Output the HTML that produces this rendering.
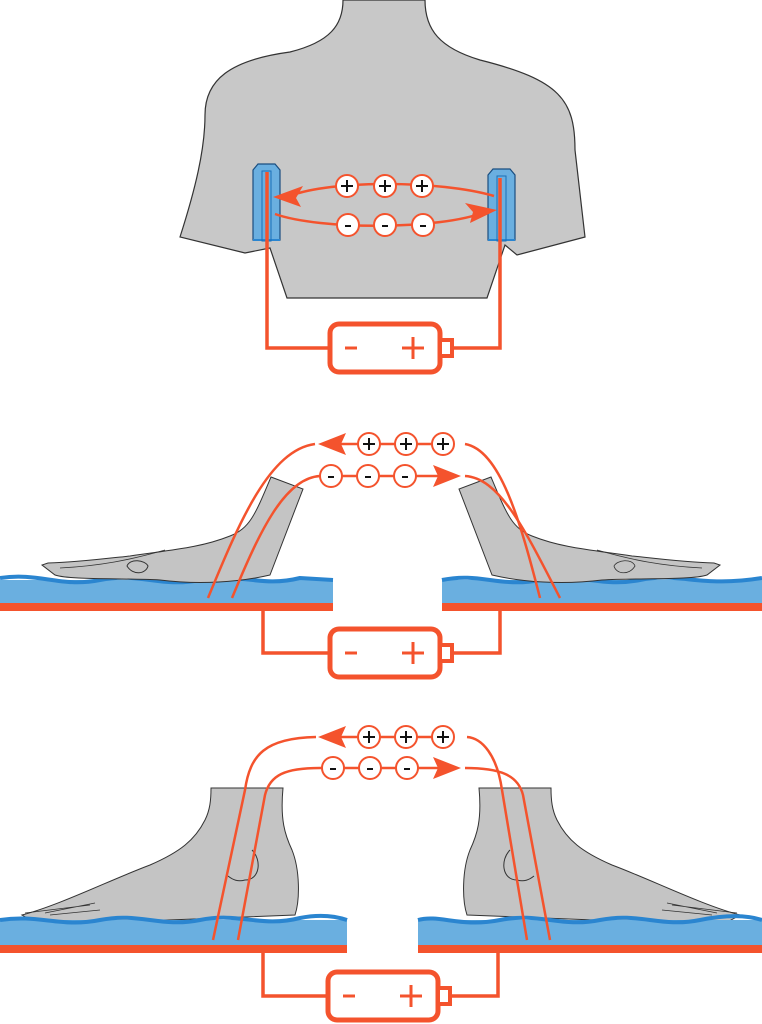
<!DOCTYPE html>
<html><head><meta charset="utf-8"><style>html,body{margin:0;padding:0;background:#fff}svg{display:block}</style></head>
<body>
<svg width="762" height="1024" viewBox="0 0 762 1024" xmlns="http://www.w3.org/2000/svg" font-family="Liberation Sans, sans-serif">
<defs>
<marker id="ah" viewBox="0 0 10 10" refX="9" refY="5" markerWidth="6" markerHeight="6" orient="auto-start-reverse" markerUnits="userSpaceOnUse">
</marker>
<g id="batt">
<rect x="0" y="0" width="110" height="48" rx="9" fill="#fff" stroke="#f4532d" stroke-width="5"/>
<rect x="110" y="16" width="12" height="16" fill="#fff" stroke="#f4532d" stroke-width="4"/>
<line x1="15" y1="24" x2="27" y2="24" stroke="#f4532d" stroke-width="3"/>
<line x1="72" y1="24" x2="94" y2="24" stroke="#f4532d" stroke-width="3"/>
<line x1="83" y1="13" x2="83" y2="35" stroke="#f4532d" stroke-width="3"/>
</g>
<g id="pc"><circle r="11" fill="#fff" stroke="#f4532d" stroke-width="2"/><line x1="-6" y1="0" x2="6" y2="0" stroke="#111" stroke-width="2"/><line x1="0" y1="-6" x2="0" y2="6" stroke="#111" stroke-width="2"/></g>
<g id="mc"><circle r="11" fill="#fff" stroke="#f4532d" stroke-width="2"/><line x1="-3" y1="1" x2="3" y2="1" stroke="#111" stroke-width="2"/></g>
</defs>

<!-- TORSO -->
<path d="M343,0 L425,0 C425,30 440,48 480,60 C560,80 575,100 575,150 L585,237 L517,255 L505,245 L487,298 L287,298 L270,248 L250,252 L245,253 L180,237 C195,190 205,150 205,115 C205,80 230,60 290,52 C330,42 343,25 343,0 Z" fill="#c8c8c8" stroke="#333" stroke-width="1.2"/>
<path d="M253,170 L258,164 L275,164 L280,170 L280,240 L253,240 Z" fill="#6aafe0" stroke="#1a4e80" stroke-width="1.2"/>
<path d="M488,175 L493,169 L510,169 L515,175 L515,240 L488,240 Z" fill="#6aafe0" stroke="#1a4e80" stroke-width="1.2"/>
<line x1="253" y1="240" x2="280" y2="240" stroke="#2a85d0" stroke-width="2"/>
<line x1="488" y1="240" x2="515" y2="240" stroke="#2a85d0" stroke-width="2"/>
<rect x="262" y="171" width="9" height="70" fill="none" stroke="#1a6fb8" stroke-width="1"/>
<rect x="497" y="176" width="9" height="65" fill="none" stroke="#1a6fb8" stroke-width="1"/>
<polyline points="267,172 267,348 330,348" fill="none" stroke="#f4532d" stroke-width="3.5"/>
<polyline points="500,178 500,348 452,348" fill="none" stroke="#f4532d" stroke-width="3.5"/>
<use href="#batt" x="330" y="324"/>
<path d="M494,196 C440,180 330,180 290,196" fill="none" stroke="#f4532d" stroke-width="2.5"/>
<polygon points="273,197 303,186 296,198 301,207" fill="#f4532d"/>
<path d="M275,214 C320,230 440,230 485,212" fill="none" stroke="#f4532d" stroke-width="2.5"/>
<polygon points="497,210 465,203 473,212 470,223" fill="#f4532d"/>
<use href="#pc" x="347" y="186"/><use href="#pc" x="385" y="186"/><use href="#pc" x="422" y="186"/>
<use href="#mc" x="348" y="225"/><use href="#mc" x="385" y="225"/><use href="#mc" x="423" y="225"/>

<!-- MIDDLE -->
<rect x="0" y="580" width="333" height="24" fill="#6aafe0"/>
<rect x="442" y="580" width="320" height="24" fill="#6aafe0"/>
<path d="M0,578 C40,572 60,588 100,580 C140,572 160,588 200,580 C240,572 260,588 300,578 L333,580" fill="none" stroke="#2a85d0" stroke-width="4"/>
<path d="M442,580 C480,572 500,588 540,580 C580,572 600,588 640,580 C680,572 700,588 762,578" fill="none" stroke="#2a85d0" stroke-width="4"/>
<rect x="0" y="603" width="333" height="8" fill="#f4532d"/>
<rect x="442" y="603" width="320" height="8" fill="#f4532d"/>
<!-- left foot -->
<path d="M271,477 L303,489 L270,575 C240,582 200,585 160,580 C120,578 70,580 55,575 L42,565 L48,563 C80,562 110,558 130,556 C170,550 200,548 230,536 C250,528 255,515 271,477 Z" fill="#c4c4c4" stroke="#333" stroke-width="1"/>
<path d="M127,566 C130,558 145,560 148,566 C146,574 133,576 127,566 Z" fill="none" stroke="#333" stroke-width="1"/>
<path d="M60,568 C100,566 130,560 165,550" fill="none" stroke="#333" stroke-width="0.8"/>
<!-- right foot -->
<path d="M491,477 L459,489 L492,575 C522,582 562,585 602,580 C642,578 692,580 707,575 L720,565 L714,563 C682,562 652,558 632,556 C592,550 562,548 532,536 C512,528 507,515 491,477 Z" fill="#c4c4c4" stroke="#333" stroke-width="1"/>
<path d="M635,566 C632,558 617,560 614,566 C616,574 629,576 635,566 Z" fill="none" stroke="#333" stroke-width="0.8"/>
<path d="M702,568 C662,566 632,560 597,550" fill="none" stroke="#333" stroke-width="0.8"/>
<path d="M208,598 C240,520 270,450 315,444" fill="none" stroke="#f4532d" stroke-width="2.5"/>
<path d="M232,598 C260,530 285,478 320,476" fill="none" stroke="#f4532d" stroke-width="2.5"/>
<path d="M465,444 C500,450 520,520 540,598" fill="none" stroke="#f4532d" stroke-width="2.5"/>
<path d="M465,476 C500,478 525,530 560,598" fill="none" stroke="#f4532d" stroke-width="2.5"/>
<line x1="340" y1="444" x2="450" y2="444" stroke="#f4532d" stroke-width="2.5"/>
<polygon points="318,444 346,433 341,444 346,455" fill="#f4532d"/>
<line x1="320" y1="476" x2="440" y2="476" stroke="#f4532d" stroke-width="2.5"/>
<polygon points="461,476 433,465 438,476 433,487" fill="#f4532d"/>
<use href="#pc" x="369" y="444"/><use href="#pc" x="406" y="444"/><use href="#pc" x="443" y="444"/>
<use href="#mc" x="331" y="476"/><use href="#mc" x="368" y="476"/><use href="#mc" x="405" y="476"/>
<polyline points="263,611 263,653 330,653" fill="none" stroke="#f4532d" stroke-width="3.5"/>
<polyline points="500,611 500,653 452,653" fill="none" stroke="#f4532d" stroke-width="3.5"/>
<use href="#batt" x="330" y="629"/>

<!-- BOTTOM -->
<path d="M211,788 L283,788 C280,820 285,835 292,850 C300,870 300,900 295,915 L40,925 L22,915 C60,905 110,880 150,865 C180,852 195,840 205,820 C210,810 211,800 211,788 Z" fill="#c4c4c4" stroke="#333" stroke-width="1"/>
<path d="M252,850 C262,860 260,880 245,880 C238,882 233,880 228,876" fill="none" stroke="#333" stroke-width="1"/>
<path d="M25,913 L90,905 M45,913 L95,903 M50,915 L100,910" fill="none" stroke="#333" stroke-width="0.8"/>
<path d="M551,788 L479,788 C482,820 477,835 470,850 C462,870 462,900 467,915 L722,925 L740,915 C702,905 652,880 612,865 C582,852 567,840 557,820 C552,810 551,800 551,788 Z" fill="#c4c4c4" stroke="#333" stroke-width="1"/>
<path d="M510,850 C500,860 502,880 517,880 C524,882 529,880 534,876" fill="none" stroke="#333" stroke-width="1"/>
<path d="M737,913 L672,905 M717,913 L667,903 M712,915 L662,910" fill="none" stroke="#333" stroke-width="0.8"/>
<rect x="0" y="920" width="347" height="25" fill="#6aafe0"/>
<rect x="418" y="920" width="344" height="25" fill="#6aafe0"/>
<path d="M0,920 C40,914 60,928 100,920 C140,912 160,928 200,920 C240,912 260,928 300,918 C320,914 335,916 347,920" fill="none" stroke="#2a85d0" stroke-width="4"/>
<path d="M418,920 C440,914 460,928 500,920 C540,912 560,928 600,920 C640,912 660,928 700,920 C730,914 750,916 762,920" fill="none" stroke="#2a85d0" stroke-width="4"/>
<rect x="0" y="945" width="347" height="8" fill="#f4532d"/>
<rect x="418" y="945" width="344" height="8" fill="#f4532d"/>
<path d="M213,940 L245,790 C250,755 265,738 316,737" fill="none" stroke="#f4532d" stroke-width="2.5"/>
<path d="M238,940 L265,795 C270,775 285,768 320,768" fill="none" stroke="#f4532d" stroke-width="2.5"/>
<path d="M527,940 L502,790 C497,755 482,738 467,737" fill="none" stroke="#f4532d" stroke-width="2.5"/>
<path d="M550,940 L523,795 C518,775 500,768 465,768" fill="none" stroke="#f4532d" stroke-width="2.5"/>
<line x1="340" y1="737" x2="450" y2="737" stroke="#f4532d" stroke-width="2.5"/>
<polygon points="318,737 346,726 341,737 346,748" fill="#f4532d"/>
<line x1="320" y1="768" x2="440" y2="768" stroke="#f4532d" stroke-width="2.5"/>
<polygon points="461,768 433,757 438,768 433,779" fill="#f4532d"/>
<use href="#pc" x="369" y="737"/><use href="#pc" x="406" y="737"/><use href="#pc" x="443" y="737"/>
<use href="#mc" x="333" y="768"/><use href="#mc" x="370" y="768"/><use href="#mc" x="407" y="768"/>
<polyline points="263,953 263,996 330,996" fill="none" stroke="#f4532d" stroke-width="3.5"/>
<polyline points="498,953 498,996 450,996" fill="none" stroke="#f4532d" stroke-width="3.5"/>
<use href="#batt" x="328" y="972"/>
</svg>
</body></html>
